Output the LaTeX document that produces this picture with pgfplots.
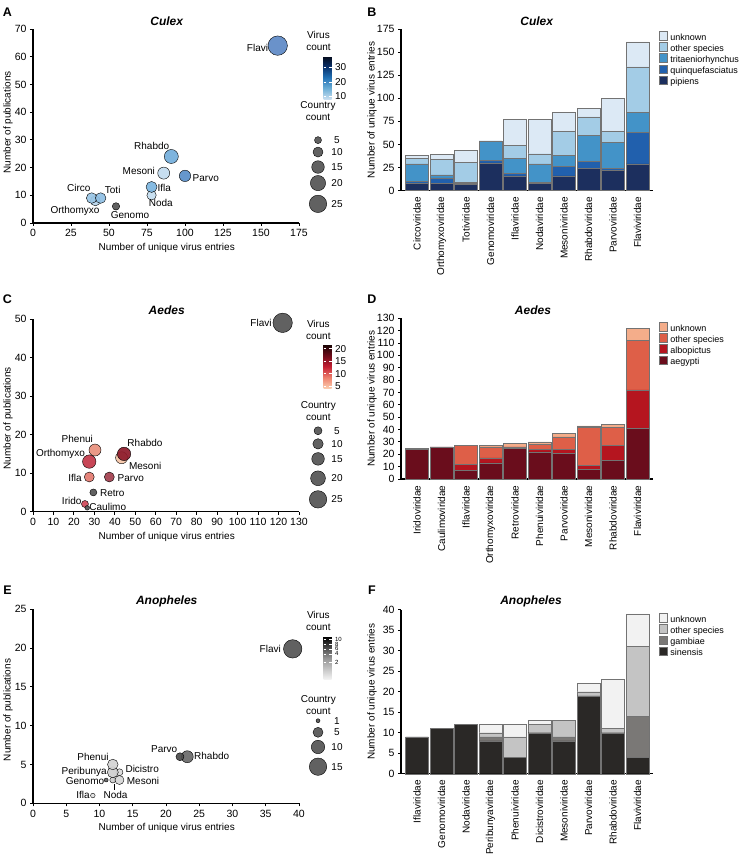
\documentclass[border=0pt]{standalone}
\usepackage{pgfplots}
\usepackage{pgfplotstable}
\pgfplotsset{compat=1.18}
\usepackage{fontspec}
\setmainfont{Liberation Sans}
\pgfplotsset{/pgf/number format/assume math mode=true}

% bar colours
\definecolor{cu1}{RGB}{28,47,94}
\definecolor{cu2}{RGB}{33,96,173}
\definecolor{cu3}{RGB}{67,147,200}
\definecolor{cu4}{RGB}{163,204,230}
\definecolor{cu5}{RGB}{220,233,245}
\definecolor{ae1}{RGB}{106,13,28}
\definecolor{ae2}{RGB}{181,21,31}
\definecolor{ae3}{RGB}{222,95,72}
\definecolor{ae4}{RGB}{244,173,138}
\definecolor{an1}{RGB}{42,40,38}
\definecolor{an2}{RGB}{122,120,118}
\definecolor{an3}{RGB}{196,196,196}
\definecolor{an4}{RGB}{242,242,242}
\definecolor{na}{HTML}{555555}
% scatter colours
\definecolor{aFla}{HTML}{5F8AC6}\definecolor{aRha}{HTML}{74AEDB}\definecolor{aMes}{HTML}{C3DCEF}
\definecolor{aPar}{HTML}{5A8FC9}\definecolor{aIfl}{HTML}{7DB6E0}\definecolor{aNod}{HTML}{C5DEF0}
\definecolor{aCir}{HTML}{9AC6E6}\definecolor{aTot}{HTML}{90C0E4}\definecolor{aOrt}{HTML}{B8D5EC}
\definecolor{cRha}{HTML}{8E1B2B}\definecolor{cMes}{HTML}{F6C6A8}\definecolor{cPhe}{HTML}{E8917E}
\definecolor{cOrt}{HTML}{C33849}\definecolor{cIfl}{HTML}{E37B70}\definecolor{cPar}{HTML}{A2404F}
\definecolor{cIri}{HTML}{D04A5A}
\definecolor{eRha}{HTML}{6A6A6A}\definecolor{ePar}{HTML}{4C4C4C}\definecolor{ePhe}{HTML}{D3D3D3}
\definecolor{ePer}{HTML}{CFCFCF}\definecolor{eDic}{HTML}{DADADA}\definecolor{eMes}{HTML}{D6D6D6}
\definecolor{eGen}{HTML}{666666}\definecolor{eNod}{HTML}{CCCCCC}\definecolor{eIfl}{HTML}{E3E3E3}

\newcommand{\bub}[4]{\addplot[only marks, mark=*, mark size=#3pt, mark options={draw=none, fill=#4, fill opacity=0.93}, forget plot] coordinates {(#1,#2)};}

\pgfplotsset{
  base/.style={
    scale only axis, anchor=south west,
    axis x line*=bottom, axis y line*=left,
    axis line style={line width=1.2pt,-},
    tick style={line width=0.9pt, black},
    tick align=outside, major tick length=3pt,
    ticklabel style={font=\fontsize{10.5}{12}\selectfont},
    clip=false,
  },
  scat/.style={base, width=266pt},
  cbar/.style={colorbar, colorbar style={at={(parent axis.north east)}, anchor=north west,
      scale only axis, width=8pt, height=43pt,
      axis line style={draw=none}, tick style={white, line width=0.6pt}, tick align=inside,
      major tick length=2.5pt, yticklabel style={font=\fontsize{10}{12}\selectfont}, #1}},
  bars/.style={base, width=252pt, ybar stacked, bar width=0.93, xmin=-0.65, xmax=9.63,
    xtick={0,...,9}, xtick style={draw=none}, ymin=0,
    xticklabel style={rotate=90, anchor=east, font=\fontsize{10}{12}\selectfont},
    legend style={draw=none, fill=none, at={(1.012,1)}, anchor=north west,
      font=\fontsize{9}{9}\selectfont, row sep=0pt,
      nodes={inner sep=0pt, text height=6.5pt, text depth=2.2pt},
      /tikz/every odd column/.style={column sep=3pt}},
    legend cell align=left, reverse legend,
    legend image code/.code={\draw[#1, line width=0.6pt] (0pt,-2.2pt) rectangle (7.5pt,6.5pt);},
  },
}

\pgfplotstableread{
i a b c d e
0 8 2 19 6 3
1 8 6 3 17 5
2 7 1 1 22 13
3 30 3 21 0 0
4 16 3 16 14 28
5 8 1 20 11 37
6 16 10 12 26 21
7 24 8 28 20 9
8 22 2 28 12 36
9 29 34 22 49 27
}\tabB
\pgfplotstableread{
i a b c d
0 24 0 1 0
1 26 0 0 0
2 7 5 15 0
3 13 4 9 1
4 25 1 0 3
5 22 2 4 2
6 21 3 10 3
7 8 3 31 1
8 15 12 15 2
9 41 31 40 10
}\tabD
\pgfplotstableread{
i a b c d
0 9 0 0 0
1 11 0 0 0
2 12 0 0 0
3 8 1 1 2
4 4 0 5 3
5 10 0 2 1
6 8 1 4 0
7 19 0 1 2
8 10 0 1 12
9 4 10 17 8
}\tabF

\begin{document}
\begin{tikzpicture}
\useasboundingbox (0,0) rectangle (744pt,863pt);

% ---------------- A ----------------
\begin{axis}[scat, at={(33pt,640pt)}, height=194pt,
  xmin=0, xmax=175, ymin=0, ymax=70, xtick={0,25,...,175}, ytick={0,10,...,70},
  colormap={cx}{rgb255=(200,222,240) rgb255=(107,174,214) rgb255=(33,113,181) rgb255=(8,48,107) rgb255=(5,10,25)},
  point meta min=8, point meta max=38, cbar={ytick={10,20,30}, xshift=16pt, yshift=-27pt}]
\bub{41}{8}{5}{aOrt}
\bub{38.6}{9}{5.3}{aCir}
\bub{44.5}{9}{5.3}{aTot}
\bub{54.6}{6}{3.7}{na}
\bub{78}{10}{4.7}{aNod}
\bub{78}{13}{5.5}{aIfl}
\bub{86}{18}{6}{aMes}
\bub{91}{24}{7}{aRha}
\bub{100}{17}{5.7}{aPar}
\bub{161}{64}{9.7}{aFla}
% country count legend
\bub{187.5}{29.9}{3.5}{na}
\bub{187.5}{25.6}{5}{na}
\bub{187.5}{20.2}{6.3}{na}
\bub{187.5}{14.4}{7.6}{na}
\bub{187.5}{6.9}{8.7}{na}
\end{axis}

% ---------------- B ----------------
\begin{axis}[bars, at={(401pt,672.3pt)}, height=161.7pt, ymax=175, ytick={0,25,...,175},
  xticklabels={Circoviridae,Orthomyxoviridae,Totiviridae,Genomoviridae,Iflaviridae,Nodaviridae,Mesoniviridae,Rhabdoviridae,Parvoviridae,Flaviviridae}]
\addplot[fill=cu1, draw=black!55] table[x=i,y=a] {\tabB}; \addlegendentry{pipiens}
\addplot[fill=cu2, draw=black!55] table[x=i,y=b] {\tabB}; \addlegendentry{quinquefasciatus}
\addplot[fill=cu3, draw=black!55] table[x=i,y=c] {\tabB}; \addlegendentry{tritaeniorhynchus}
\addplot[fill=cu4, draw=black!55] table[x=i,y=d] {\tabB}; \addlegendentry{other species}
\addplot[fill=cu5, draw=black!55] table[x=i,y=e] {\tabB}; \addlegendentry{unknown}
\end{axis}

% ---------------- C ----------------
\begin{axis}[scat, at={(33pt,351.3pt)}, height=192.7pt,
  xmin=0, xmax=130, ymin=0, ymax=50, xtick={0,10,...,130}, ytick={0,10,...,50},
  colormap={ax}{rgb255=(252,208,178) rgb255=(238,130,110) rgb255=(196,30,50) rgb255=(110,10,25) rgb255=(25,5,5)},
  point meta min=4, point meta max=21.6, cbar={ytick={5,10,15,20}, xshift=16pt, yshift=-25.7pt, height=44pt}]
\bub{43.3}{14}{6}{cMes}
\bub{44.5}{15}{6.7}{cRha}
\bub{30.3}{16}{6}{cPhe}
\bub{27.5}{13}{6.7}{cOrt}
\bub{27.5}{9}{5}{cIfl}
\bub{37.3}{9}{5}{cPar}
\bub{29.5}{5}{3.5}{na}
\bub{25.4}{2}{3.5}{cIri}
\bub{26.5}{1}{2.3}{na}
\bub{122}{49}{9.7}{na}
% country count legend
\bub{139.3}{21.0}{4}{na}
\bub{139.3}{17.6}{5.2}{na}
\bub{139.3}{13.7}{6.3}{na}
\bub{139.3}{8.67}{7.4}{na}
\bub{139.3}{3.2}{8.7}{na}
\end{axis}

% ---------------- D ----------------
\begin{axis}[bars, at={(401pt,384pt)}, height=160.7pt, ymax=130, ytick={0,10,...,130},
  legend style={at={(1.012,0.99)}},
  xticklabels={Iridoviridae,Caulimoviridae,Iflaviridae,Orthomyxoviridae,Retroviridae,Phenuiviridae,Parvoviridae,Mesoniviridae,Rhabdoviridae,Flaviviridae}]
\addplot[fill=ae1, draw=black!55] table[x=i,y=a] {\tabD}; \addlegendentry{aegypti}
\addplot[fill=ae2, draw=black!55] table[x=i,y=b] {\tabD}; \addlegendentry{albopictus}
\addplot[fill=ae3, draw=black!55] table[x=i,y=c] {\tabD}; \addlegendentry{other species}
\addplot[fill=ae4, draw=black!55] table[x=i,y=d] {\tabD}; \addlegendentry{unknown}
\end{axis}

% ---------------- E ----------------
\begin{axis}[scat, at={(33pt,59.7pt)}, height=194pt,
  xmin=0, xmax=40, ymin=0, ymax=25, xtick={0,5,...,40}, ytick={0,5,...,25},
  colormap={nx}{rgb255=(245,245,245) rgb255=(150,150,150) rgb255=(0,0,0)},
  point meta min=0, point meta max=43.3,
  cbar={ytick={17.3,26,31,36,41}, yticklabels={2,4,6,8,10}, xshift=16pt, yshift=-27.4pt,
        yticklabel style={font=\fontsize{6}{6}\selectfont, inner ysep=0pt}}]
\bub{9}{1}{2.3}{eIfl}
\bub{12}{3}{3}{eNod}
\bub{11}{3}{2}{eGen}
\bub{13}{3}{4.5}{eMes}
\bub{13}{4}{3.5}{eDic}
\bub{12}{4}{5.5}{ePer}
\bub{12}{5}{5.3}{ePhe}
\bub{23.2}{6}{6}{eRha}
\bub{22.1}{6}{4}{ePar}
\bub{39.05}{19.9}{9.2}{na}
% country count legend
\bub{42.86}{10.64}{2}{na}
\bub{42.86}{9.15}{5}{na}
\bub{42.86}{7.26}{6.7}{na}
\bub{42.86}{4.72}{8.7}{na}
\end{axis}

% ---------------- F ----------------
\begin{axis}[bars, at={(401pt,89.3pt)}, height=164pt, ymax=40, ytick={0,5,...,40},
  legend style={at={(1.012,0.992)}},
  xticklabels={Iflaviridae,Genomoviridae,Nodaviridae,Peribunyaviridae,Phenuiviridae,Dicistroviridae,Mesoniviridae,Parvoviridae,Rhabdoviridae,Flaviviridae}]
\addplot[fill=an1, draw=black!55] table[x=i,y=a] {\tabF}; \addlegendentry{sinensis}
\addplot[fill=an2, draw=black!55] table[x=i,y=b] {\tabF}; \addlegendentry{gambiae}
\addplot[fill=an3, draw=black!55] table[x=i,y=c] {\tabF}; \addlegendentry{other species}
\addplot[fill=an4, draw=black!55] table[x=i,y=d] {\tabF}; \addlegendentry{unknown}
\end{axis}

% ---------------- annotations (pixel coordinates, y down) ----------------
\begin{scope}[shift={(0pt,863pt)}, x=1pt, y=-1pt]
\tikzset{lab/.style={font=\fontsize{10}{12}\selectfont, inner sep=0pt},
         ttl/.style={font=\fontsize{12}{14}\selectfont\bfseries\itshape, inner sep=0pt},
         pan/.style={font=\fontsize{12.5}{14}\selectfont\bfseries, inner sep=0pt},
         ax/.style={font=\fontsize{10}{12}\selectfont, inner sep=0pt},
         leg/.style={font=\fontsize{10}{12}\selectfont, inner sep=0pt, align=center}}
% panel letters
\node[pan] at (7.5,12) {A};
\node[pan] at (372,12) {B};
\node[pan] at (7.5,299.5) {C};
\node[pan] at (372,299.5) {D};
\node[pan] at (7.5,590) {E};
\node[pan] at (372,590) {F};
% titles
\node[ttl] at (166.7,21) {Culex};
\node[ttl] at (536.7,21) {Culex};
\node[ttl] at (166.7,310.7) {Aedes};
\node[ttl] at (533,310) {Aedes};
\node[ttl] at (166.7,601.7) {Anopheles};
\node[ttl] at (531,601.7) {Anopheles};
% axis labels
\node[ax] at (166.7,248.3) {Number of unique virus entries};
\node[ax] at (166.7,537.3) {Number of unique virus entries};
\node[ax] at (166.7,828.3) {Number of unique virus entries};
\node[ax, rotate=90] at (8,122.5) {Number of publications};
\node[ax, rotate=90] at (8,418.3) {Number of publications};
\node[ax, rotate=90] at (8,710) {Number of publications};
\node[ax, rotate=90] at (372,110) {Number of unique virus entries};
\node[ax, rotate=90] at (372,398.7) {Number of unique virus entries};
\node[ax, rotate=90] at (372,691.7) {Number of unique virus entries};
% A labels
\node[lab] at (257.5,47.7) {Flavi};
\node[lab] at (151.7,146) {Rhabdo};
\node[lab] at (138.8,170.7) {Mesoni};
\node[lab] at (205.8,178.3) {Parvo};
\node[lab] at (164.3,187.7) {Ifla};
\node[lab] at (160.8,203.3) {Noda};
\node[lab] at (78.8,187.7) {Circo};
\node[lab] at (112.7,190) {Toti};
\node[lab] at (75,210.7) {Orthomyxo};
\node[lab] at (130,215) {Genomo};
\node[leg] at (318.5,40.5) {Virus\\count};
\node[leg] at (318,111.5) {Country\\count};
\node[lab] at (337,140) {5};
\node[lab] at (337,152.3) {10};
\node[lab] at (337,166.7) {15};
\node[lab] at (337,183.3) {20};
\node[lab] at (337,204) {25};
% C labels
\node[lab] at (261,323.3) {Flavi};
\node[lab] at (77.3,439.3) {Phenui};
\node[lab] at (145,442.7) {Rhabdo};
\node[lab] at (60.5,454) {Orthomyxo};
\node[lab] at (145.2,466) {Mesoni};
\node[lab] at (75,477.7) {Ifla};
\node[lab] at (130.8,478.3) {Parvo};
\node[lab] at (112.3,492.7) {Retro};
\node[lab] at (71.7,501) {Irido};
\node[lab] at (107.8,506.7) {Caulimo};
\node[leg] at (318.3,330) {Virus\\count};
\node[leg] at (318.3,411) {Country\\count};
\node[lab] at (337,430.7) {5};
\node[lab] at (337,444) {10};
\node[lab] at (337,459) {15};
\node[lab] at (337,478.3) {20};
\node[lab] at (337,499.3) {25};
% E labels
\node[lab] at (270.3,649) {Flavi};
\node[lab] at (164.2,749.3) {Parvo};
\node[lab] at (211.7,756.3) {Rhabdo};
\node[lab] at (93,756.7) {Phenui};
\node[lab] at (142.2,769.3) {Dicistro};
\node[lab] at (84.2,771.7) {Peribunya};
\node[lab] at (85,781) {Genomo};
\node[lab] at (143,781) {Mesoni};
\node[lab] at (115.5,795) {Noda};
\node[lab] at (83,795) {Ifla};
\draw[line width=0.6pt] (114,784.5) -- (114,790);
\node[leg] at (318.3,621) {Virus\\count};
\node[leg] at (318.3,705) {Country\\count};
\node[lab] at (337,720.7) {1};
\node[lab] at (337,732.3) {5};
\node[lab] at (337,747) {10};
\node[lab] at (337,766.7) {15};
\end{scope}
\end{tikzpicture}
\end{document}
